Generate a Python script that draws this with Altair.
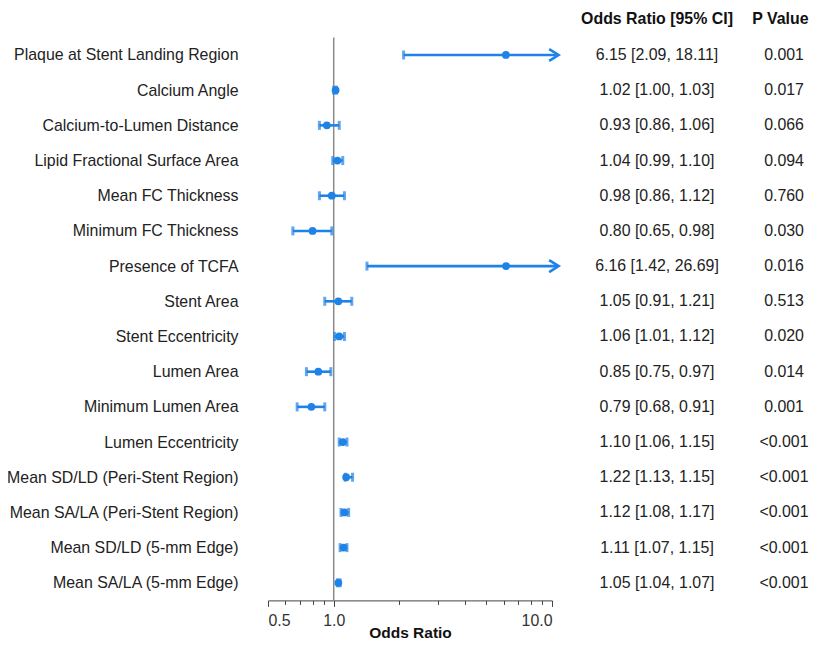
import altair as alt
import pandas as pd

variables = [
    "Plaque at Stent Landing Region",
    "Calcium Angle",
    "Calcium-to-Lumen Distance",
    "Lipid Fractional Surface Area",
    "Mean FC Thickness",
    "Minimum FC Thickness",
    "Presence of TCFA",
    "Stent Area",
    "Stent Eccentricity",
    "Lumen Area",
    "Minimum Lumen Area",
    "Lumen Eccentricity",
    "Mean SD/LD (Peri-Stent Region)",
    "Mean SA/LA (Peri-Stent Region)",
    "Mean SD/LD (5-mm Edge)",
    "Mean SA/LA (5-mm Edge)",
]
odds = [6.15, 1.02, 0.93, 1.04, 0.98, 0.80, 6.16, 1.05, 1.06, 0.85, 0.79, 1.10, 1.14, 1.12, 1.11, 1.05]
ci_low = [2.09, 1.00, 0.86, 0.99, 0.86, 0.65, 1.42, 0.91, 1.01, 0.75, 0.68, 1.06, 1.13, 1.08, 1.07, 1.04]
ci_high = [18.11, 1.03, 1.06, 1.10, 1.12, 0.98, 26.69, 1.21, 1.12, 0.97, 0.91, 1.15, 1.22, 1.17, 1.15, 1.07]
or_text = [
    "6.15 [2.09, 18.11]", "1.02 [1.00, 1.03]", "0.93 [0.86, 1.06]", "1.04 [0.99, 1.10]",
    "0.98 [0.86, 1.12]", "0.80 [0.65, 0.98]", "6.16 [1.42, 26.69]", "1.05 [0.91, 1.21]",
    "1.06 [1.01, 1.12]", "0.85 [0.75, 0.97]", "0.79 [0.68, 0.91]", "1.10 [1.06, 1.15]",
    "1.22 [1.13, 1.15]", "1.12 [1.08, 1.17]", "1.11 [1.07, 1.15]", "1.05 [1.04, 1.07]",
]
p_text = ["0.001", "0.017", "0.066", "0.094", "0.760", "0.030", "0.016", "0.513",
          "0.020", "0.014", "0.001", "<0.001", "<0.001", "<0.001", "<0.001", "<0.001"]
tick_values = [0.5, 0.6, 0.7, 0.8, 0.9, 1, 2, 3, 4, 5, 6, 7, 8, 9, 10]
headers = ["Odds Ratio [95% CI]", "P Value"]

AXIS_MAX = 10
df = pd.DataFrame(dict(var=variables, est=odds, lo=ci_low, hi=ci_high,
                       ortxt=or_text, ptxt=p_text))
df["hi_draw"] = df["hi"].clip(upper=10.45)
df["arrow"] = df["hi"] > AXIS_MAX
df["arrow_x"] = 10.2

FONT = "Liberation Sans"
FS = 15.9
BLUE = "#1f82e6"

xscale = alt.Scale(type="log", domain=[0.5, 10], nice=False)
xaxis = alt.Axis(
    values=tick_values,
    labelExpr="(datum.value == 0.5 || datum.value == 1 || datum.value == 10) ? format(datum.value, '.1f') : ''",
    title="Odds Ratio",
    titleFont=FONT, titleFontSize=15.5, titleFontWeight="bold", titleColor="#111",
    titlePadding=-3,
    labelFont=FONT, labelFontSize=FS, labelColor="#333", labelPadding=6,
    domainColor="#444", tickColor="#444", grid=False,
    tickSize={"condition": {"test": "datum.value == 0.5 || datum.value == 1 || datum.value == 10", "value": 6}, "value": 4},
)


def X(field):
    return alt.X(field, type="quantitative", scale=xscale, axis=xaxis)


Y = alt.Y("var:N", sort=variables, scale=alt.Scale(type="point", padding=0.5),
          axis=alt.Axis(title=None, domain=False, ticks=False, labelPadding=30,
                        labelFont=FONT, labelFontSize=FS, labelColor="#222",
                        labelLimit=400))

base = alt.Chart(df)

ref = alt.Chart(pd.DataFrame({"x": [1.0]})).mark_rule(color="#8a8a8a", strokeWidth=1.5).encode(
    x=X("x"))

bars = base.mark_rule(color=BLUE, strokeWidth=2.6).encode(x=X("lo"), x2="hi_draw", y=Y)

cap_lo = base.mark_tick(color=BLUE, thickness=3, size=9).encode(x=X("lo"), y=Y)
cap_hi = base.transform_filter("!datum.arrow").mark_tick(color=BLUE, thickness=3, size=9).encode(
    x=X("hi"), y=Y)

pts = base.mark_circle(color=BLUE, size=60, opacity=1).encode(x=X("est"), y=Y)

arrows = base.transform_filter("datum.arrow").mark_point(
    shape="M-0.8,-1L0.8,0L-0.8,1", filled=False, color=BLUE, strokeWidth=2.6,
    size=140, opacity=1, strokeJoin="miter").encode(x=X("arrow_x"), y=Y)

or_col = base.mark_text(align="center", baseline="middle", font=FONT, fontSize=FS,
                        color="#222").encode(y=Y, text="ortxt:N", x=alt.value(389))
p_col = base.mark_text(align="center", baseline="middle", font=FONT, fontSize=FS,
                       color="#222").encode(y=Y, text="ptxt:N", x=alt.value(516))

hdr_df = pd.DataFrame({"t": headers})
hdr1 = alt.Chart(hdr_df).transform_filter(alt.datum.t == headers[0]).mark_text(
    align="center", baseline="middle", font=FONT, fontSize=FS, fontWeight="bold",
    color="#111").encode(text="t:N", x=alt.value(389), y=alt.value(-18))
hdr2 = alt.Chart(hdr_df).transform_filter(alt.datum.t == headers[1]).mark_text(
    align="right", baseline="middle", font=FONT, fontSize=FS, fontWeight="bold",
    color="#111").encode(text="t:N", x=alt.value(540.5), y=alt.value(-18))

chart = alt.layer(ref, bars, cap_lo, cap_hi, pts, arrows, or_col, p_col, hdr1, hdr2).properties(
    width=284, height=563,
    autosize=alt.AutoSizeParams(type="none"),
    padding={"left": 260, "top": 29.4, "right": 257, "bottom": 43.6},
    background="white",
).configure_view(stroke=None)

chart.save("out.html", embed_options={"renderer": "svg", "actions": False})
